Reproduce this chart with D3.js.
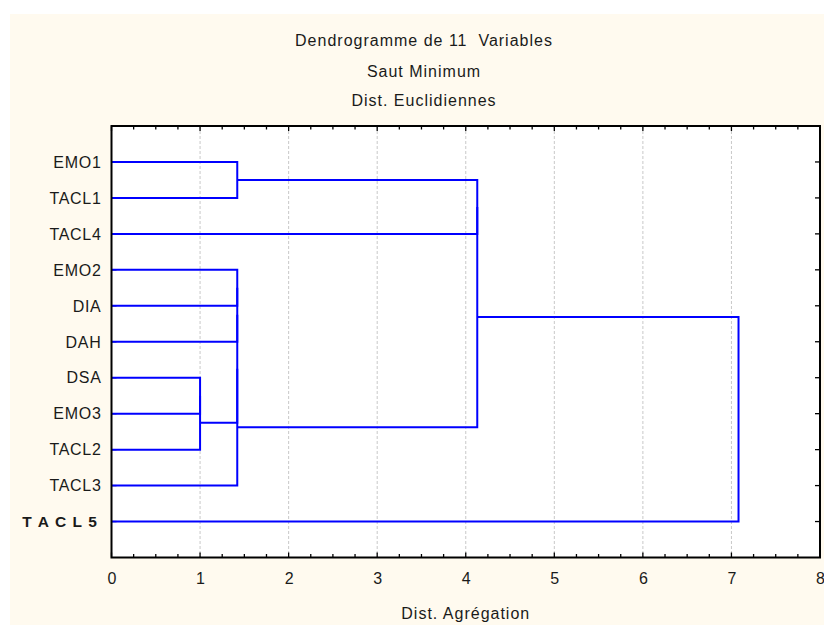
<!DOCTYPE html>
<html>
<head>
<meta charset="utf-8">
<script src="https://cdn.jsdelivr.net/npm/d3@7/dist/d3.min.js"></script>
<style>
  html, body { margin: 0; padding: 0; background: #ffffff; }
  svg { display: block; }
  text { font-family: "Liberation Sans", Arial, sans-serif; fill: #1a1a1a; white-space: pre; }
</style>
</head>
<body>
<svg id="chart" width="824" height="625"></svg>
<script>
// ---- Data ----
const titleLines = ["Dendrogramme de 11  Variables", "Saut Minimum", "Dist. Euclidiennes"];
const xAxisTitle = "Dist. Agrégation";
const leaves = ["EMO1", "TACL1", "TACL4", "EMO2", "DIA", "DAH", "DSA", "EMO3", "TACL2", "TACL3", "TACL5"];
const leafLabels = ["EMO1", "TACL1", "TACL4", "EMO2", "DIA", "DAH", "DSA", "EMO3", "TACL2", "TACL3", "T A C L 5"];
const boldLeaves = ["TACL5"];
// merge steps (single linkage): children and joining distance; "m<i>" refers to merge i
const mergeLeft   = ["DSA", "m0",    "EMO1",  "EMO2", "m3",  "m4",  "m5",    "m2",    "m7", "m8"];
const mergeRight  = ["EMO3", "TACL2", "TACL1", "DIA", "DAH", "m1",  "TACL3", "TACL4", "m6", "TACL5"];
const mergeHeight = [1.00,   1.00,    1.42,    1.42,  1.42,  1.42,  1.42,    4.13,    4.13, 7.08];
const xTicks = [0, 1, 2, 3, 4, 5, 6, 7, 8];

// ---- Layout ----
const svg = d3.select("#chart");
const L = 111.5, R = 820, T = 126, B = 557.5;

svg.append("rect").attr("x", 10).attr("y", 14).attr("width", 814).attr("height", 611).attr("fill", "#fffaef");
svg.append("rect").attr("x", L).attr("y", T).attr("width", R - L).attr("height", B - T).attr("fill", "#ffffff");

const x = d3.scaleLinear().domain([0, 8]).range([L, R]);
const y = d3.scaleLinear().domain([0, leaves.length + 1]).range([T, B]);

// titles
const titleBase = [46, 76.5, 106];
svg.selectAll("text.title").data(titleLines).join("text")
  .attr("class", "title")
  .attr("x", 424).attr("y", (d, i) => titleBase[i])
  .attr("text-anchor", "middle")
  .style("font-size", "16px").style("letter-spacing", "1px")
  .text(d => d);

// grid lines
svg.append("g").selectAll("line").data(xTicks.filter(t => t > 0 && t < 8)).join("line")
  .attr("x1", d => x(d)).attr("x2", d => x(d))
  .attr("y1", T).attr("y2", B)
  .attr("stroke", "#c8c8c8").attr("stroke-width", 1).attr("stroke-dasharray", "3,2");

// axes ticks (inward)
const minor = d3.range(0, 8.001, 0.25);
const bottomAxis = d3.axisBottom(x).tickValues(xTicks).tickFormat(d3.format("d")).tickSize(0).tickPadding(0);
const gB = svg.append("g").attr("transform", `translate(0,${B})`).call(bottomAxis);
gB.select(".domain").remove();
gB.selectAll("text").attr("dy", null).attr("y", 26.5)
  .style("font-size", "16px").style("font-family", "'Liberation Sans', Arial, sans-serif").attr("fill", "#1a1a1a");

const tickG = svg.append("g").attr("stroke", "#000").attr("stroke-width", 1.3);
tickG.selectAll("line.bt").data(minor).join("line").attr("class", "bt")
  .attr("x1", d => x(d)).attr("x2", d => x(d))
  .attr("y1", B).attr("y2", d => B - (Number.isInteger(d) ? 5 : 3.5));
tickG.selectAll("line.tt").data(minor).join("line").attr("class", "tt")
  .attr("x1", d => x(d)).attr("x2", d => x(d))
  .attr("y1", T).attr("y2", d => T + (Number.isInteger(d) ? 5 : 3.5));
const leafIdx = d3.range(1, leaves.length + 1);
tickG.selectAll("line.rt").data(leafIdx).join("line").attr("class", "rt")
  .attr("x1", R).attr("x2", R - 5)
  .attr("y1", d => y(d)).attr("y2", d => y(d));
tickG.selectAll("line.lt").data(leafIdx).join("line").attr("class", "lt")
  .attr("x1", L).attr("x2", L + 5)
  .attr("y1", d => y(d)).attr("y2", d => y(d));

// x axis title
svg.append("text").attr("x", (L + R) / 2).attr("y", 619).attr("text-anchor", "middle")
  .style("font-size", "16px").style("letter-spacing", "1px").text(xAxisTitle);

// leaf labels
svg.selectAll("text.leaf").data(leaves).join("text")
  .attr("class", "leaf")
  .attr("x", d => boldLeaves.includes(d) ? 98 : 101.5).attr("y", (d, i) => y(i + 1)).attr("dy", "0.36em")
  .attr("text-anchor", "end")
  .style("font-size", d => boldLeaves.includes(d) ? "15.5px" : "16px")
  .style("letter-spacing", d => boldLeaves.includes(d) ? "1.1px" : "0.7px")
  .style("font-weight", d => boldLeaves.includes(d) ? "bold" : "normal")
  .text((d, i) => leafLabels[i]);

// dendrogram links
const pos = {};
leaves.forEach((d, i) => { pos[d] = { h: 0, v: i + 1 }; });
const links = [];
mergeHeight.forEach((h, i) => {
  const a = pos[mergeLeft[i]], b = pos[mergeRight[i]];
  links.push({ a, b, h });
  pos["m" + i] = { h, v: (a.v + b.v) / 2 };
});

svg.append("g").selectAll("path").data(links).join("path")
  .attr("d", d => `M${x(d.a.h)},${y(d.a.v)}H${x(d.h)}V${y(d.b.v)}H${x(d.b.h)}`)
  .attr("fill", "none").attr("stroke", "#0000ff").attr("stroke-width", 2);

// frame
svg.append("rect").attr("x", L).attr("y", T).attr("width", R - L).attr("height", B - T)
  .attr("fill", "none").attr("stroke", "#000").attr("stroke-width", 2);
</script>
</body>
</html>
